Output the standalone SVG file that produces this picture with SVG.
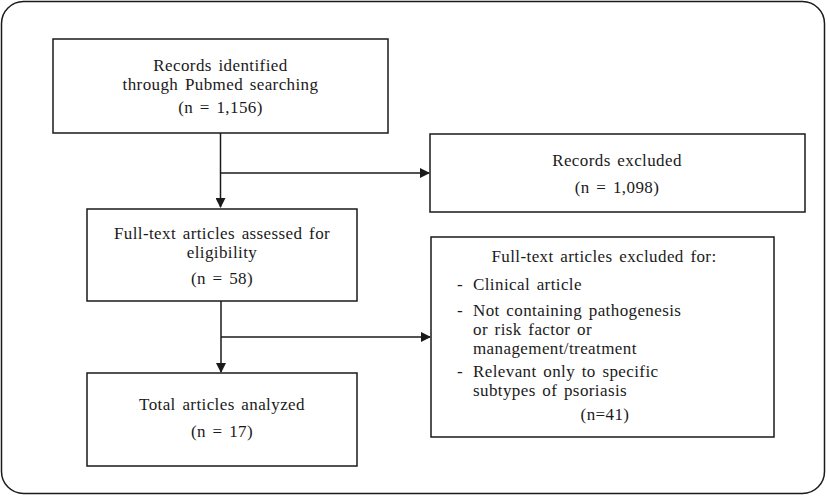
<svg xmlns="http://www.w3.org/2000/svg" width="827" height="496" viewBox="0 0 827 496">
<style>
.box{fill:#fff;stroke:#1a1a1a;stroke-width:1.5}
.t{font-family:"Liberation Serif","Times New Roman",serif;font-size:17px;fill:#1a1a1a;word-spacing:2px;letter-spacing:0.4px}
.c{text-anchor:middle}
.ln{fill:none;stroke:#1a1a1a;stroke-width:1.5}
</style>
<defs>
<marker id="ah" markerWidth="10" markerHeight="10" refX="9" refY="5" orient="auto" markerUnits="userSpaceOnUse" viewBox="0 0 10 10">
<path d="M0,0 L10,5 L0,10 Z" fill="#1a1a1a"/>
</marker>
</defs>
<rect x="1.5" y="1.5" width="823" height="492" rx="22" fill="#fff" stroke="#1a1a1a" stroke-width="1.5"/>
<g id="connectors">
<line class="ln" x1="220.5" y1="133" x2="220.5" y2="207" marker-end="url(#ah)"/>
<line class="ln" x1="220.5" y1="173" x2="429" y2="173" marker-end="url(#ah)"/>
<line class="ln" x1="221" y1="301" x2="221" y2="372" marker-end="url(#ah)"/>
<line class="ln" x1="221" y1="337" x2="430" y2="337" marker-end="url(#ah)"/>
</g>
<g id="n1">
<rect class="box" x="53" y="39" width="335" height="94"/>
<text class="t c" x="220.5" y="71">Records identified</text>
<text class="t c" x="220.5" y="90">through Pubmed searching</text>
<text class="t c" x="220.5" y="113">(n = 1,156)</text>
</g>
<g id="n2">
<rect class="box" x="430" y="134" width="375" height="78"/>
<text class="t c" x="617" y="166">Records excluded</text>
<text class="t c" x="617" y="193">(n = 1,098)</text>
</g>
<g id="n3">
<rect class="box" x="87" y="209" width="270" height="92"/>
<text class="t c" x="222" y="239">Full-text articles assessed for</text>
<text class="t c" x="222" y="258">eligibility</text>
<text class="t c" x="222" y="284">(n = 58)</text>
</g>
<g id="n4">
<rect class="box" x="87" y="373" width="270" height="93"/>
<text class="t c" x="222" y="410">Total articles analyzed</text>
<text class="t c" x="222" y="437">(n = 17)</text>
</g>
<g id="n5">
<rect class="box" x="431" y="237" width="343" height="200"/>
<text class="t c" x="604" y="262">Full-text articles excluded for:</text>
<text class="t" x="457" y="290">-</text>
<text class="t" x="473" y="290">Clinical article</text>
<text class="t" x="457" y="316">-</text>
<text class="t" x="473" y="316">Not containing pathogenesis</text>
<text class="t" x="473" y="335">or risk factor or</text>
<text class="t" x="473" y="354">management/treatment</text>
<text class="t" x="457" y="377">-</text>
<text class="t" x="473" y="377">Relevant only to specific</text>
<text class="t" x="473" y="396">subtypes of psoriasis</text>
<text class="t c" x="605" y="420">(n=41)</text>
</g>
</svg>
